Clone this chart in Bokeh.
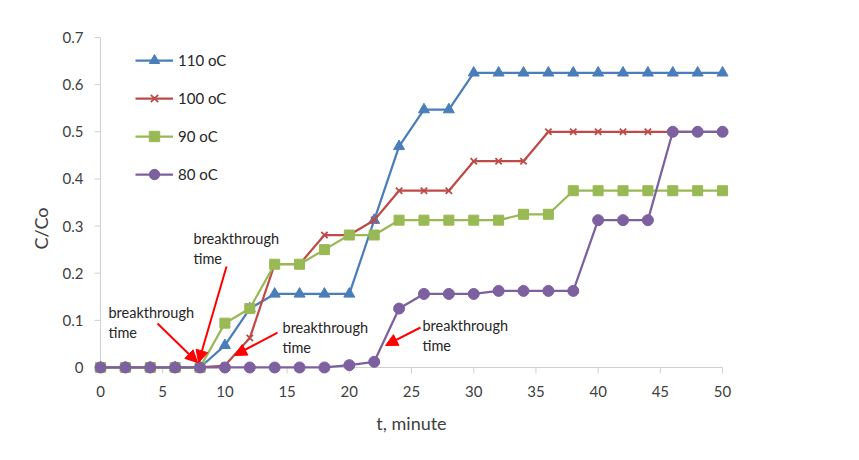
from bokeh.plotting import figure
from bokeh.models import Range1d, FixedTicker, Legend, LegendItem, Label, Arrow, NormalHead
from bokeh.embed import file_html
from bokeh.resources import INLINE
import math

# ---- data ----
t = [0, 2, 4, 6, 8, 10, 12, 14, 16, 18, 20, 22, 24, 26, 28, 30, 32, 34, 36, 38, 40, 42, 44, 46, 48, 50]
c110 = [0, 0, 0, 0, 0, 0.047, 0.125, 0.156, 0.156, 0.156, 0.156, 0.3125, 0.469, 0.547, 0.547,
        0.625, 0.625, 0.625, 0.625, 0.625, 0.625, 0.625, 0.625, 0.625, 0.625, 0.625]
c100 = [0, 0, 0, 0, 0, 0.004, 0.0625, 0.219, 0.219, 0.281, 0.281, 0.3125, 0.375, 0.375, 0.375,
        0.4375, 0.4375, 0.4375, 0.5, 0.5, 0.5, 0.5, 0.5, 0.5, 0.5, 0.5]
c90 = [0, 0, 0, 0, 0, 0.094, 0.125, 0.219, 0.219, 0.25, 0.281, 0.281, 0.3125, 0.3125, 0.3125,
       0.3125, 0.3125, 0.325, 0.325, 0.375, 0.375, 0.375, 0.375, 0.375, 0.375, 0.375]
c80 = [0, 0, 0, 0, 0, 0, 0, 0, 0, 0, 0.005, 0.012, 0.125, 0.156, 0.156,
       0.156, 0.1625, 0.1625, 0.1625, 0.1625, 0.3125, 0.3125, 0.3125, 0.5, 0.5, 0.5]
series_names = ["110 oC", "100 oC", "90 oC", "80 oC"]
x_ticks = [0, 5, 10, 15, 20, 25, 30, 35, 40, 45, 50]
y_ticks = [0, 0.1, 0.2, 0.3, 0.4, 0.5, 0.6, 0.7]
y_tick_labels = ["0", "0.1", "0.2", "0.3", "0.4", "0.5", "0.6", "0.7"]
note_text = ["breakthrough", "time"]

FONT = "Lato"
TXT = "#404040"
AX = "#d0d0d0"

XS, XE = -0.804, 50.80
YS, YE = -0.0170, 0.70424

p = figure(width=851, height=452, output_backend="svg", toolbar_location=None,
           x_range=Range1d(XS, XE), y_range=Range1d(YS, YE),
           min_border_left=90, min_border_right=119, min_border_top=35, min_border_bottom=77)
p.outline_line_color = None
p.xgrid.visible = False
p.ygrid.visible = False
p.background_fill_color = "white"
p.border_fill_color = "white"

# side axes used only for tick labels / titles
for ax in (p.xaxis[0], p.yaxis[0]):
    ax.axis_line_color = None
    ax.major_tick_line_color = None
    ax.minor_tick_line_color = None
    ax.major_tick_in = 0
    ax.major_tick_out = 0
    ax.major_label_text_font = FONT
    ax.major_label_text_font_size = "15px"
    ax.major_label_text_color = TXT

p.xaxis.ticker = FixedTicker(ticks=x_ticks)
p.yaxis.ticker = FixedTicker(ticks=y_ticks)
p.yaxis.major_label_overrides = {v: s for v, s in zip(y_ticks, y_tick_labels)}
p.xaxis.major_label_standoff = 10
p.yaxis.major_label_standoff = 7
p.xaxis.axis_label = "t, minute"
p.xaxis.axis_label_text_font = FONT
p.xaxis.axis_label_text_font_size = "18px"
p.xaxis.axis_label_text_font_style = "normal"
p.xaxis.axis_label_text_color = TXT
p.xaxis.axis_label_standoff = 12
# trailing no-break spaces push the visible title down to where the reference has it
p.yaxis.axis_label = "C/Co" + "\u00a0" * 10
p.yaxis.axis_label_text_font = FONT
p.yaxis.axis_label_text_font_size = "18px"
p.yaxis.axis_label_text_font_style = "normal"
p.yaxis.axis_label_text_color = TXT
p.yaxis.axis_label_standoff = 8

# axis lines and tick marks drawn at x=0 / y=0 inside the frame
tick_dx = 6 * (XE - XS) / 642.0
tick_dy = 6 * (YE - YS) / 340.0
p.segment(x0=[x_ticks[0]], y0=[0], x1=[x_ticks[-1]], y1=[0], line_color=AX, line_width=1)
p.segment(x0=[0], y0=[y_ticks[0]], x1=[0], y1=[y_ticks[-1]], line_color=AX, line_width=1)
p.segment(x0=x_ticks, y0=[0] * len(x_ticks), x1=x_ticks, y1=[-tick_dy] * len(x_ticks),
          line_color=AX, line_width=1)
p.segment(x0=[0] * len(y_ticks), y0=y_ticks, x1=[-tick_dx] * len(y_ticks), y1=y_ticks,
          line_color=AX, line_width=1)

colors = ["#4A7EBB", "#BE4B48", "#98B954", "#7D60A0"]
markers = ["triangle", "x", "square", "circle"]
msizes = [11, 9, 10, 11]
data = [c110, c100, c90, c80]

items = []
for name, ys, col, mk, ms in zip(series_names, data, colors, markers, msizes):
    lr = p.line(t, ys, line_color=col, line_width=2.25)
    if mk == "x":
        sr = p.scatter(t, ys, marker=mk, size=ms, line_color=col, line_width=1.8)
    else:
        sr = p.scatter(t, ys, marker=mk, size=ms, fill_color=col, line_color=col)
    items.append(LegendItem(label=name, renderers=[lr, sr]))

legend = Legend(items=items, location=(45, 188), glyph_width=38, glyph_height=26,
                spacing=12, label_standoff=5, padding=0, margin=0,
                border_line_color=None, background_fill_alpha=0,
                label_text_font=FONT, label_text_font_size="15px", label_text_color="#262626")
p.add_layout(legend, "center")

# annotations: (x, baseline1, baseline2)
notes = [(0.643, 0.1167, 0.0742), (7.476, 0.2736, 0.2312), (14.63, 0.0848, 0.0424), (25.88, 0.0891, 0.0467)]
for nx, y1, y2 in notes:
    for yy, txt in zip((y1, y2), note_text):
        p.add_layout(Label(x=nx, y=yy, text=txt, text_align="left", text_baseline="alphabetic",
                           text_font=FONT, text_font_size="14.5px", text_color="#262626"))

arrows = [((4.58, 0.0933), (7.80, 0.0106)), ((10.13, 0.2142), (7.88, 0.0106)),
          ((14.23, 0.0742), (10.77, 0.0255)), ((25.72, 0.0848), (22.91, 0.0467))]
for (x0, y0), (x1, y1) in arrows:
    p.add_layout(Arrow(x_start=x0, y_start=y0, x_end=x1, y_end=y1, line_color="#ff0000",
                       line_width=2,
                       end=NormalHead(size=12, fill_color="#ff0000", line_color="#ff0000")))

open("out.html", "w").write(file_html(p, INLINE))
